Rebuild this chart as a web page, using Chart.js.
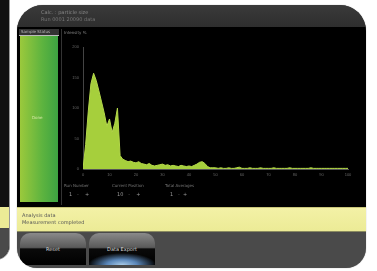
<!DOCTYPE html>
<html><head><meta charset="utf-8">
<script src="https://cdn.jsdelivr.net/npm/chart.js@4/dist/chart.umd.min.js"></script>
<style>
html,body{margin:0;padding:0;background:#fff;width:377px;height:271px;overflow:hidden;font-family:"DejaVu Sans",sans-serif;}
.abs{position:absolute;}
#left{left:-30px;top:0;width:39px;height:259px;background:#111;border-radius:0 0 14px 0;border-right:1px solid #999;border-bottom:1px solid #999;overflow:hidden}
#dev{left:17px;top:5px;width:349px;height:263px;border-radius:26px 26px 20px 20px;background:#4a4a4a;overflow:hidden;box-shadow:0 0 1px #888}
#top{left:0;top:0;width:349px;height:22px;background:linear-gradient(#3a3a3a,#2e2e2e)}
#panel{left:0;top:22px;width:349px;height:180px;background:#000}
#yellow{left:0;top:202px;width:349px;height:23px;background:linear-gradient(#f3f1a6,#eceb96);border-top:1px solid #c9c67a;border-bottom:1px solid #8a8a60}
.btn{top:228px;width:66px;height:32px;border-radius:10px 10px 0 0;background:linear-gradient(#8a8a8a,#5a5a5a 45%,#0a0a0a 50%,#000);color:#ddd;font-size:5px;text-align:center;line-height:32px}
.t{color:#9a9a9a;font-size:5px;white-space:nowrap;filter:blur(0.4px)}
</style></head><body>
<div id="left" class="abs">
  <div class="abs" style="left:0;top:207px;width:39px;height:21px;background:#eceb96"></div>
  <div class="abs" style="left:0;top:228px;width:39px;height:31px;background:#4a4a4a"></div>
</div>
<div id="dev" class="abs">
  <div id="top" class="abs">
    <div class="abs t" style="left:24px;top:4px;color:#888">Calc. : particle size</div>
    <div class="abs t" style="left:24px;top:11px;color:#777">Run 0001 20090 data</div>
  </div>
  <div id="panel" class="abs">
    <div class="abs" style="left:2px;top:2px;width:40px;height:6px;background:#333;border-bottom:1px solid #bbb"></div>
    <div class="abs t" style="left:4px;top:2px;color:#bbb;font-size:4px">Sample Status</div>
    <div class="abs" style="left:3px;top:9px;width:38px;height:166px;background:linear-gradient(90deg,#9bc93c,#5cb33f 60%,#3da342)"></div>
    <div class="abs t" style="left:15px;top:88px;color:#d8eaa8;font-size:4px">Done</div>
    <div class="abs" style="left:44px;top:2px;width:1px;height:176px;background:#333"></div>
    <div class="abs t" style="left:47px;top:3px;font-size:4px;color:#888">Intensity %</div>
    <div class="abs t" style="left:47px;top:156px;font-size:4px;color:#777">Run Number</div>
    <div class="abs t" style="left:95px;top:156px;font-size:4px;color:#777">Current Position</div>
    <div class="abs t" style="left:148px;top:156px;font-size:4px;color:#777">Total Averages</div>
    <div class="abs t" style="left:52px;top:164px;color:#999">1 &nbsp; - &nbsp; &nbsp;+</div>
    <div class="abs t" style="left:100px;top:164px;color:#999">10 &nbsp; - &nbsp; &nbsp;+</div>
    <div class="abs t" style="left:153px;top:164px;color:#999">1 &nbsp; - &nbsp;+</div>
  </div>
  <div id="yellow" class="abs">
    <div class="abs t" style="left:5px;top:4px;color:#555">Analysis data</div>
    <div class="abs t" style="left:5px;top:11px;color:#555">Measurement completed</div>
  </div>
  <div class="abs btn" style="left:3px">Reset</div>
  <div class="abs btn" style="left:72px;background:radial-gradient(ellipse 34px 12px at 50% 100%,#a8cbe8,#5a86b8 45%,rgba(0,0,0,0) 100%),linear-gradient(#8a8a8a,#5a5a5a 45%,#0a0a0a 50%,#000)">Data Export</div>
</div>
<div class="abs" style="left:63px;top:36px;width:295px;height:145px"><canvas id="c" width="295" height="145"></canvas></div>
<script>
const xValues = [0,1,2,3,4,5,6,7,8,9,10,11,12,13,14,15,16,17,18,19,20,21,22,23,24,25,26,27,28,29,30,31,32,33,34,35,36,37,38,39,40,41,42,43,44,45,46,47,48,49,50,51,52,53,54,55,56,57,58,59,60,61,62,63,64,65,66,67,68,69,70,71,72,73,74,75,76,77,78,79,80,81,82,83,84,85,86,87,88,89,90,91,92,93,94,95,96,97,98,99,100];
const intensity = [0,40,95,140,157,145,128,110,92,70,82,60,75,100,22,16,14,12,13,11,10,12,9,8,7,9,6,5,6,7,8,6,7,5,6,5,4,6,5,4,5,4,6,8,11,12,9,4,2,2,2,1,2,1,1,2,1,1,2,3,1,1,1,2,1,1,1,2,1,1,1,1,2,1,1,1,1,1,2,1,1,1,1,1,1,1,2,1,1,1,1,1,1,1,1,1,1,1,1,1,1];
const xTicks = [0,10,20,30,40,50,60,70,80,90,100];
const yTicks = [0,50,100,150,200];
new Chart(document.getElementById('c'), {
  type: 'line',
  data: { datasets: [{ data: xValues.map((x,i)=>({x:x,y:intensity[i]})), fill: 'origin', backgroundColor: '#a6cf3c', borderColor: '#b4d84a', borderWidth: 1, pointRadius: 0, tension: 0 }] },
  options: {
    responsive: false, animation: false, events: [],
    layout: { padding: { top: 11, right: 10, left: 0, bottom: 0 } },
    plugins: { legend: { display: false }, tooltip: { enabled: false } },
    scales: {
      x: { type: 'linear', min: 0, max: 100, afterBuildTicks: s => { s.ticks = xTicks.map(v => ({value: v})); },
        grid: { display: false, drawTicks: true, tickLength: 2, color: '#666' },
        border: { color: '#555' },
        ticks: { color: '#666', font: { size: 4 }, padding: 1, maxRotation: 0 },
        afterFit: s => { s.height = 12; } },
      y: { min: 0, max: 200, afterBuildTicks: s => { s.ticks = yTicks.map(v => ({value: v})); },
        grid: { display: false, tickLength: 2 },
        border: { color: '#444' },
        ticks: { color: '#666', font: { size: 4 }, padding: 2 },
        afterFit: s => { s.width = 20; } }
    }
  }
});
</script>
</body></html>
